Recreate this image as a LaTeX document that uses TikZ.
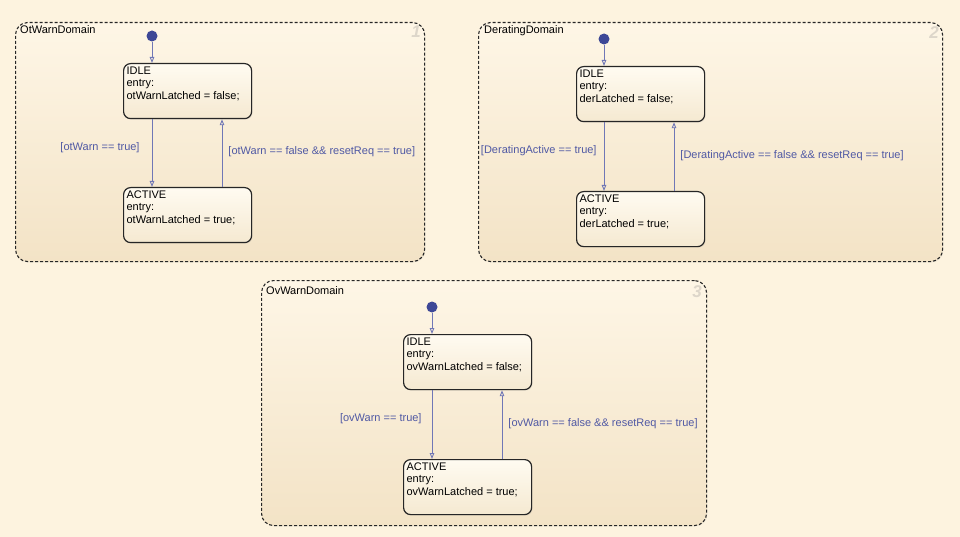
\documentclass[tikz,border=0pt]{standalone}
\usepackage{fontspec}
\setmainfont{Liberation Sans}
\usepackage{tikz}
\usetikzlibrary{arrows.meta,positioning,calc,shadows}

\definecolor{pagebg}{HTML}{FDF3DF}
\definecolor{domtop}{HTML}{FEF6E6}
\definecolor{dombot}{HTML}{F3E3C6}
\definecolor{sttop}{HTML}{FFFBF1}
\definecolor{stbot}{HTML}{F5E9D1}
\definecolor{trblue}{HTML}{7077B6}
\definecolor{lblblue}{HTML}{5059A4}
\definecolor{dotblue}{HTML}{3D4796}
\definecolor{numgray}{HTML}{DDD6CA}

\newcommand{\stbody}[1]{\parbox[c][49pt][t]{122pt}{#1}}

\tikzset{
  chartbox/.style={draw=black!85,line width=1.1pt,dash pattern=on 3pt off 2pt,rounded corners=12pt,
    top color=domtop,bottom color=dombot,anchor=north west,inner sep=0pt,
    drop shadow={opacity=0.15,shadow xshift=0.8pt,shadow yshift=-0.8pt}},
  chartname/.style={anchor=base west,inner sep=0pt,font=\fontsize{11pt}{13pt}\selectfont},
  chartnum/.style={anchor=north east,inner sep=0pt,text=numgray,font=\fontsize{17pt}{17pt}\selectfont\bfseries\itshape},
  statebox/.style={draw=black!85,line width=1.2pt,rounded corners=7pt,top color=sttop,bottom color=stbot,
    anchor=north west,inner sep=3pt,align=left,font=\fontsize{11pt}{12.5pt}\selectfont,
    drop shadow={opacity=0.15,shadow xshift=1pt,shadow yshift=-1pt}},
  initdot/.style={circle,fill=dotblue,minimum size=11pt,inner sep=0pt},
  trans/.style={draw=trblue,line width=0.9pt,-{Triangle[open,length=6pt,width=4.5pt]}},
  guard/.style={text=lblblue,inner sep=0pt,font=\fontsize{11pt}{13pt}\selectfont}
}

\begin{document}
\begin{tikzpicture}[x=1pt,y=-1pt]
  \fill[pagebg] (0,0) rectangle (960,537); % background
  \useasboundingbox (0,0) rectangle (960,537);

  % ---- OtWarnDomain
  \node[chartbox,minimum width=409pt,minimum height=239pt] (otDom) at (15,22) {};
  \node[chartname] (otName) at (20,34) {OtWarnDomain};
  \node[chartnum] (otNum) at (421,26) {1};
  \node[statebox] (otIdle) at (123,63) {\stbody{IDLE\\entry:\\otWarnLatched = false;}};
  \node[statebox] (otActive) at (123,187) {\stbody{ACTIVE\\entry:\\otWarnLatched = true;}};
  \node[initdot] (otInit) at (152,36) {};
  \coordinate (otUp) at (222,0); % x of the reset transition
  \draw[trans] (otInit) -- (otInit |- otIdle.north);
  \draw[trans] (otIdle.south -| otInit) -- (otActive.north -| otInit)
    node[guard,pos=0.42,left=12pt] (otSet) {[otWarn == true]};
  \draw[trans] (otActive.north -| otUp) -- (otIdle.south -| otUp)
    node[guard,pos=0.52,right=6pt] (otReset) {[otWarn == false \&\& resetReq == true]};

  % ---- DeratingDomain
  \node[chartbox,minimum width=464pt,minimum height=239pt] (derDom) at (478,22) {};
  \node[chartname] (derName) at (484,34) {DeratingDomain};
  \node[chartnum] (derNum) at (939,26) {2};
  \node[statebox] (derIdle) at (576,66) {\stbody{IDLE\\entry:\\derLatched = false;}};
  \node[statebox] (derActive) at (576,191) {\stbody{ACTIVE\\entry:\\derLatched = true;}};
  \node[initdot] (derInit) at (604,39) {};
  \coordinate (derUp) at (674,0);
  \draw[trans] (derInit) -- (derInit |- derIdle.north);
  \draw[trans] (derIdle.south -| derInit) -- (derActive.north -| derInit)
    node[guard,pos=0.42,left=7pt] (derSet) {[DeratingActive == true]};
  \draw[trans] (derActive.north -| derUp) -- (derIdle.south -| derUp)
    node[guard,pos=0.52,right=6pt] (derReset) {[DeratingActive == false \&\& resetReq == true]};

  % ---- OvWarnDomain
  \node[chartbox,minimum width=445pt,minimum height=245pt] (ovDom) at (261,280) {};
  \node[chartname] (ovName) at (266,294) {OvWarnDomain};
  \node[chartnum] (ovNum) at (702,285) {3};
  \node[statebox] (ovIdle) at (403,334) {\stbody{IDLE\\entry:\\ovWarnLatched = false;}};
  \node[statebox] (ovActive) at (403,459) {\stbody{ACTIVE\\entry:\\ovWarnLatched = true;}};
  \node[initdot] (ovInit) at (432,307) {};
  \coordinate (ovUp) at (502,0);
  \draw[trans] (ovInit) -- (ovInit |- ovIdle.north);
  \draw[trans] (ovIdle.south -| ovInit) -- (ovActive.north -| ovInit)
    node[guard,pos=0.42,left=10pt] (ovSet) {[ovWarn == true]};
  \draw[trans] (ovActive.north -| ovUp) -- (ovIdle.south -| ovUp)
    node[guard,pos=0.52,right=6pt] (ovReset) {[ovWarn == false \&\& resetReq == true]};
\end{tikzpicture}
\end{document}
